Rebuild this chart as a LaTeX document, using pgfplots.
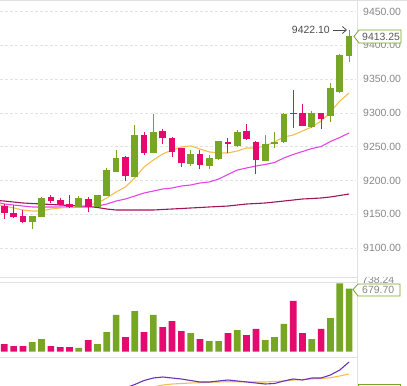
\documentclass[border=0pt]{standalone}
\usepackage{pgfplots}
\pgfplotsset{compat=1.18}
\usepackage{pgfplotstable}
\usepackage{fontspec}
\setmainfont{Liberation Sans}
\usetikzlibrary{arrows.meta}
\definecolor{cgreen}{RGB}{118,166,35}
\definecolor{cpink}{RGB}{228,10,112}
\definecolor{maorange}{RGB}{245,190,80}
\definecolor{mamag}{RGB}{228,70,228}
\definecolor{madark}{RGB}{160,20,90}
\definecolor{indpurple}{RGB}{105,50,190}
\definecolor{gridc}{RGB}{226,226,226}
\definecolor{sepc}{RGB}{225,225,225}
\definecolor{labc}{RGB}{135,135,135}
\newcommand{\lf}{\fontsize{10.5}{12}\selectfont}

\pgfplotstableread{
i o h l c
3 9138.5 9148.0 9128.1 9147.3
4 9146.3 9175.0 9146.0 9174.0
8 9161.1 9177.0 9160.0 9174.0
10 9161.1 9179.0 9161.0 9178.4
11 9177.4 9218.4 9177.0 9215.4
12 9212.9 9245.0 9212.0 9233.6
14 9205.5 9282.0 9205.0 9267.7
16 9241.0 9298.3 9240.0 9271.2
20 9224.3 9245.0 9221.3 9239.1
22 9221.8 9237.6 9216.9 9232.7
23 9232.1 9259.0 9230.2 9258.3
25 9251.4 9274.6 9249.9 9272.1
28 9229.2 9267.2 9228.0 9253.9
29 9253.5 9272.1 9247.5 9257.3
30 9257.3 9300.0 9256.0 9298.7
33 9278.6 9302.7 9278.0 9299.3
35 9295.8 9343.7 9286.0 9336.3
36 9331.3 9387.0 9328.9 9385.6
37 9384.1 9422.1 9375.7 9413.25
}\greentab

\pgfplotstableread{
i o h l c
0 9162.1 9165.1 9142.9 9151.3
1 9152.2 9163.6 9144.4 9146.3
2 9147.3 9156.2 9137.0 9138.5
5 9175.5 9178.4 9167.0 9170.0
6 9171.0 9174.0 9163.0 9163.6
7 9165.1 9178.4 9159.2 9161.1
9 9172.5 9175.5 9153.3 9161.1
13 9235.1 9236.0 9199.6 9206.5
15 9267.7 9272.1 9237.6 9241.0
17 9273.1 9276.1 9253.5 9262.3
18 9263.2 9264.0 9235.1 9242.5
19 9247.5 9248.0 9220.3 9225.3
21 9239.1 9245.0 9216.5 9222.8
24 9257.3 9262.3 9240.1 9253.5
26 9273.1 9283.5 9260.0 9260.9
27 9257.3 9258.0 9209.1 9230.2
31 9300.0 9333.8 9277.1 9298.5
32 9299.3 9312.7 9280.0 9281.0
34 9299.3 9300.0 9275.7 9290.5
}\pinktab

\pgfplotstableread{
i ma5 ma10 ma30
-0.46 9163.6 9166.6 9170.0
0 9162.1 9165.1 9169.5
1 9159.2 9163.6 9168.0
2 9156.2 9162.1 9166.6
3 9154.7 9160.7 9165.8
4 9154.7 9160.7 9165.1
5 9157.7 9160.7 9164.4
6 9159.2 9160.7 9163.6
7 9160.7 9160.7 9162.9
8 9162.1 9160.7 9162.1
9 9163.6 9160.7 9161.4
10 9166.6 9162.1 9159.9
11 9174.0 9165.1 9157.7
12 9182.9 9169.5 9156.2
13 9190.3 9172.5 9156.2
14 9203.6 9176.9 9156.2
15 9219.9 9181.4 9156.2
16 9230.2 9184.3 9156.2
17 9239.1 9187.3 9157.0
18 9245.0 9188.8 9157.7
19 9249.5 9191.7 9158.4
20 9251.0 9193.2 9159.2
21 9246.5 9196.2 9159.9
22 9242.1 9197.7 9160.7
23 9240.6 9202.1 9161.4
24 9240.6 9208.8 9162.1
25 9243.5 9215.4 9163.6
26 9248.0 9218.4 9165.1
27 9248.0 9221.3 9165.8
28 9251.0 9223.6 9166.6
29 9256.9 9226.5 9168.0
30 9264.3 9233.2 9169.5
31 9267.2 9238.4 9171.0
32 9273.1 9242.8 9172.5
33 9279.1 9247.2 9173.2
34 9288.0 9250.2 9174.0
35 9301.3 9257.6 9175.5
36 9317.5 9263.5 9177.7
37 9329.4 9270.2 9179.9
}\matab

\pgfplotstableread{
i v
3 104
4 137
8 40
10 83
11 212
12 396
14 439
16 396
20 201
22 115
23 115
25 234
28 126
29 158
30 299
33 137
35 363
36 738.24
37 679.70
}\volgreen

\pgfplotstableread{
i v
0 83
1 61
2 61
5 61
6 50
7 50
9 126
13 158
15 212
17 266
18 331
19 223
21 137
24 201
26 180
27 245
31 547
32 201
34 245
}\volpink

\pgfplotstableread{
i v
13 -2
14 1.5
15 5.5
16 8
17 9
18 8
19 7
20 5.5
21 4
22 4
23 5
24 6
25 5
26 4
27 3
28 2
29 2.5
30 5
31 7
32 6
33 8
34 8
35 11
36 16
37 24
}\indA

\pgfplotstableread{
i v
16 -1
17 1
18 2
19 2.5
20 3
21 3.3
22 3.7
23 4
24 4.3
25 4.3
26 4.2
27 4
28 4
29 4.5
30 5
31 6
32 6.5
33 7
34 7.5
35 8.3
36 10
37 12
}\indB

\begin{document}
\begin{tikzpicture}
\path[use as bounding box] (0bp,0bp) rectangle (407bp,386bp);

% main candlestick panel
\begin{axis}[
  at={(0bp,109bp)}, anchor=south west, scale only axis,
  width=356bp, height=277bp,
  xmin=-0.46, xmax=37.74, ymin=9057.06, ymax=9467.02,
  axis line style={draw=none}, xtick=\empty,
  ytick={9100,9150,...,9450},
  yticklabels={9100.00,9150.00,9200.00,9250.00,9300.00,9350.00,9400.00,9450.00},
  yticklabel pos=right,
  yticklabel style={anchor=west, inner sep=0pt, xshift=7bp, font=\lf, text=labc},
  major tick length=0pt,
  ymajorgrids, grid style={gridc, dash pattern=on 3bp off 2bp, line width=0.6bp},
  no markers,
]
\addplot[madark, line width=1.1bp] table[x=i, y=ma30] {\matab};
\addplot[mamag, line width=1.1bp] table[x=i, y=ma10] {\matab};
\addplot[maorange, line width=1.1bp] table[x=i, y=ma5] {\matab};
% wicks
\addplot[draw=none, forget plot,
  error bars/.cd, y dir=plus, y explicit, error mark=none,
  error bar style={draw=cgreen, line width=1bp}]
  table[x=i, y=l, y error plus expr={\thisrow{h}-\thisrow{l}}] {\greentab};
\addplot[draw=none, forget plot,
  error bars/.cd, y dir=plus, y explicit, error mark=none,
  error bar style={draw=cpink, line width=1bp}]
  table[x=i, y=l, y error plus expr={\thisrow{h}-\thisrow{l}}] {\pinktab};
% bodies
\addplot[draw=none, forget plot,
  error bars/.cd, y dir=plus, y explicit, error mark=none,
  error bar style={draw=cgreen, line width=6.7bp}]
  table[x=i, y expr={min(\thisrow{o},\thisrow{c})}, y error plus expr={max(abs(\thisrow{c}-\thisrow{o}),1.5)}] {\greentab};
\addplot[draw=none, forget plot,
  error bars/.cd, y dir=plus, y explicit, error mark=none,
  error bar style={draw=cpink, line width=6.7bp}]
  table[x=i, y expr={min(\thisrow{o},\thisrow{c})}, y error plus expr={max(abs(\thisrow{c}-\thisrow{o}),1.5)}] {\pinktab};
\end{axis}

% volume panel
\begin{axis}[
  at={(0bp,29bp)}, anchor=south west, scale only axis,
  width=356bp, height=75bp,
  xmin=-0.46, xmax=37.74, ymin=-57.2, ymax=752,
  hide axis,
]
\addplot[ybar, bar width=6.7bp, bar shift=0pt, fill=cgreen, draw=none] table[x=i, y=v] {\volgreen};
\addplot[ybar, bar width=6.7bp, bar shift=0pt, fill=cpink, draw=none] table[x=i, y=v] {\volpink};
\end{axis}

% indicator panel
\begin{axis}[
  at={(0bp,0bp)}, anchor=south west, scale only axis,
  width=356bp, height=28bp,
  xmin=-0.46, xmax=37.74, ymin=0, ymax=28,
  hide axis, no markers,
]
\addplot[maorange, line width=1.1bp] table[x=i, y=v] {\indB};
\addplot[indpurple, line width=1.1bp] table[x=i, y=v] {\indA};
\end{axis}

\begin{scope}[x=1bp, y=1bp]
\draw[sepc, line width=0.8] (357,0) -- (357,386);
\draw[sepc, line width=0.8] (0,385.5) -- (407,385.5);
\draw[sepc, line width=0.8] (0,109) -- (357,109);
\draw[sepc, line width=0.8] (0,104) -- (357,104);
\draw[sepc, line width=0.8] (0,29) -- (357,29);

\node[anchor=east, inner sep=0pt, font=\lf, text=black!70] at (330,356) {9422.10};
\draw[black!70, line width=0.8, -{Straight Barb[length=4bp, width=7bp]}] (333,356) -- (347,356);

\draw[cgreen, fill=white, line width=0.8] (354,349.5) -- (359,356) -- (401,356) -- (401,343) -- (359,343) -- cycle;
\node[anchor=west, inner sep=0pt, font=\lf, text=black!65] at (362,349.5) {9413.25};

\begin{scope}
\clip (358,0) rectangle (407,108.5);
\node[anchor=west, inner sep=0pt, font=\lf, text=labc] at (362,106) {738.24};
\end{scope}
\draw[cgreen, fill=white, line width=0.8] (353,96.5) -- (358,102) -- (400,102) -- (400,90) -- (358,90) -- cycle;
\node[anchor=west, inner sep=0pt, font=\lf, text=labc] at (362,96) {679.70};

\draw[cgreen, line width=0.8] (358,-5) -- (358,1.7) -- (400,1.7) -- (400,-5);
\end{scope}
\end{tikzpicture}
\end{document}
